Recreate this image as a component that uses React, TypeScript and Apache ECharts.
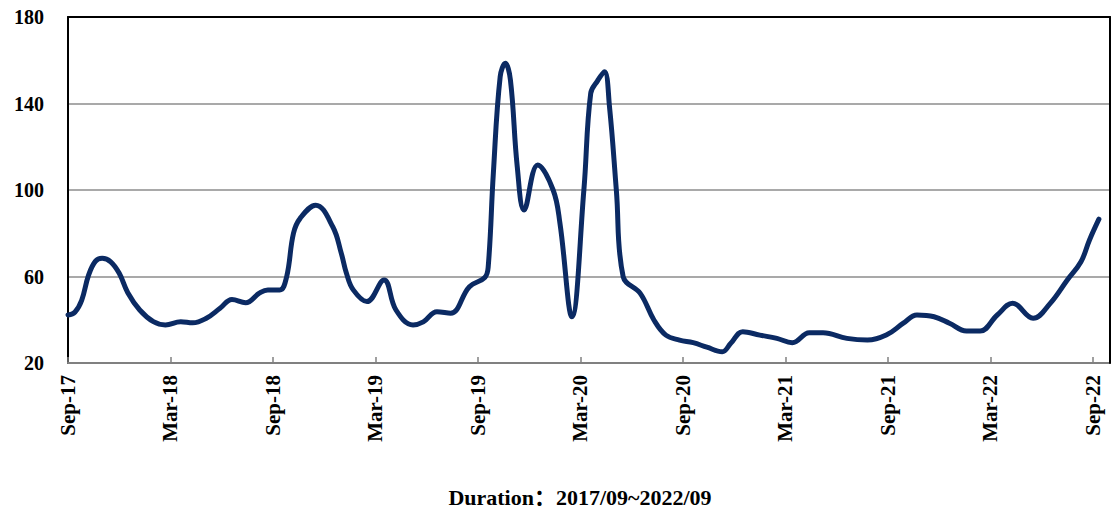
import React, { useEffect, useRef } from "react";
import * as echarts from "echarts";

// x-axis tick labels, one every 6 months starting Sep 2017
const tickLabels = [
  "Sep-17", "Mar-18", "Sep-18", "Mar-19", "Sep-19", "Mar-20",
  "Sep-20", "Mar-21", "Sep-21", "Mar-22", "Sep-22",
];

// position of each observation in months since Sep 2017
const monthOffsets = [
  0, 0.4, 0.8, 1.2, 1.6, 2.0, 2.5, 3.0, 3.5, 4.2,
  5.0, 5.7, 6.6, 7.3, 8.1, 8.9, 9.6, 10.4, 11.2, 11.7,
  12.4, 12.8, 13.2, 13.6, 14.5, 15.5, 16.0, 16.3, 16.7, 17.5,
  18.5, 19.2, 20.2, 20.8, 21.6, 22.4, 23.5, 24.4, 24.6, 24.9,
  25.3, 25.6, 25.9, 26.3, 26.7, 27.5, 28.4, 28.8, 29.5, 30.2,
  30.6, 31.0, 31.4, 31.7, 32.1, 32.5, 33.5, 34.3, 35.0, 35.8,
  36.6, 37.4, 38.3, 38.8, 39.5, 40.5, 41.5, 42.4, 43.4, 44.2,
  45.6, 46.8, 47.9, 48.9, 49.7, 50.7, 51.6, 52.6, 53.4, 54.4,
  55.3, 56.5, 57.5, 58.5, 59.3, 59.8, 60.35,
];

// index values
const values = [
  42.2, 43.5, 49, 60.5, 67, 68.4, 66.8, 61.5, 52.5, 44.5,
  39.1, 37.6, 39.1, 38.6, 40.7, 45.3, 49.4, 47.9, 52.3, 53.8,
  53.8, 59.9, 80, 87, 93, 83, 70.7, 61.5, 53.8, 48.4,
  58.4, 44.5, 37.6, 39, 43.7, 43, 55.3, 59.5, 64.5, 107.7,
  152.4, 158.6, 150.9, 110.8, 90.8, 111.6, 100, 84.6, 41.4, 100,
  144.7, 150.5, 154.7, 138.5, 100, 59.9, 52.2, 39.9, 32.9, 30.6,
  29.4, 27.3, 25.2, 29.1, 34.5, 32.9, 31.4, 29.4, 34, 34,
  31.4, 30.6, 32.9, 38.4, 42.2, 41.4, 38.4, 34.8, 34.8, 42.2,
  47.6, 40.7, 47.6, 58.4, 66.8, 76.9, 86.5,
];

const titleText = "Duration：2017/09~2022/09";

export default function App() {
  const ref = useRef<HTMLDivElement>(null);

  useEffect(() => {
    if (!ref.current) return;
    const chart = echarts.init(ref.current, null, { renderer: "svg" });
    const font = "'Liberation Serif', 'Times New Roman', serif";
    const titleFont = "'Liberation Serif', 'Noto Sans CJK SC', serif";
    const data = monthOffsets.map((t, i) => [t, values[i]]);

    chart.setOption({
      animation: false,
      backgroundColor: "#ffffff",
      grid: { left: 68, right: 5, top: 17, bottom: 150, containLabel: false },
      xAxis: [
        {
          type: "value",
          min: 0,
          max: 61,
          interval: 6,
          position: "bottom",
          axisLine: { show: true, lineStyle: { color: "#808080", width: 2 } },
          axisTick: { show: true, inside: true, length: 6, lineStyle: { color: "#808080", width: 1.5 } },
          axisLabel: {
            show: true,
            rotate: 90,
            margin: 12,
            showMaxLabel: false,
            color: "#000",
            fontFamily: font,
            fontWeight: "bold",
            fontSize: 21,
            formatter: (v: number) => {
              const r = Math.round(v);
              if (Math.abs(v - r) > 1e-6 || r % 6 !== 0) return "";
              return tickLabels[r / 6] ?? "";
            },
          },
          splitLine: { show: false },
        },
        {
          type: "value",
          min: 0,
          max: 61,
          position: "top",
          z: 5,
          axisLine: { show: true, onZero: false, lineStyle: { color: "#000", width: 2 } },
          axisTick: { show: false },
          axisLabel: { show: false },
          splitLine: { show: false },
        },
      ],
      yAxis: [
        {
          type: "value",
          min: 20,
          max: 180,
          interval: 40,
          axisLine: { show: true, lineStyle: { color: "#000", width: 2 } },
          axisTick: { show: false },
          axisLabel: {
            color: "#000",
            fontFamily: font,
            fontWeight: "bold",
            fontSize: 20,
            margin: 24,
          },
          splitLine: { show: true, lineStyle: { color: "#8c8c8c", width: 1.5 } },
        },
        {
          type: "value",
          min: 20,
          max: 180,
          position: "right",
          z: 5,
          axisLine: { show: true, onZero: false, lineStyle: { color: "#000", width: 2 } },
          axisTick: { show: false },
          axisLabel: { show: false },
          splitLine: { show: false },
        },
      ],
      series: [
        {
          type: "line",
          xAxisIndex: 0,
          yAxisIndex: 0,
          data,
          smooth: 0.4,
          showSymbol: false,
          symbol: "none",
          z: 3,
          lineStyle: { color: "#0b2a63", width: 5, cap: "round", join: "round" },
        },
      ],
      graphic: [
        {
          type: "text",
          x: 580,
          y: 497,
          style: {
            text: titleText,
            fill: "#000",
            font: `bold 22px ${titleFont}`,
            align: "center",
            verticalAlign: "middle",
            textAlign: "center",
            textVerticalAlign: "middle",
          },
        },
      ],
    });

    return () => chart.dispose();
  }, []);

  return (
    <div
      ref={ref}
      style={{ position: "absolute", left: 0, top: 0, width: 1115, height: 513 }}
    />
  );
}
